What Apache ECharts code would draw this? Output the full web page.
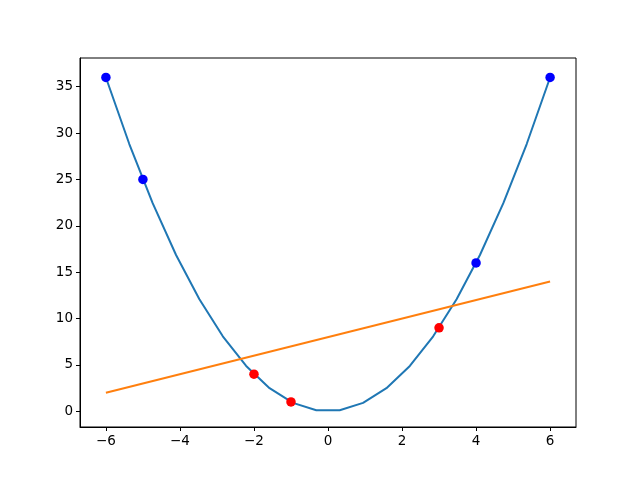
<!DOCTYPE html>
<html>
<head>
<meta charset="utf-8">
<script src="https://cdn.jsdelivr.net/npm/echarts@6/dist/echarts.min.js"></script>
<style>
  html, body { margin: 0; padding: 0; background: #fff; }
  #chart { width: 640px; height: 480px; }
</style>
</head>
<body>
<div id="chart"></div>
<script>
  // parabola samples
  var curveX = [-6, -5.368, -4.737, -4.105, -3.474, -2.842, -2.211, -1.579, -0.947, -0.316,
                0.316, 0.947, 1.579, 2.211, 2.842, 3.474, 4.105, 4.737, 5.368, 6];
  var curveY = [36, 28.82, 22.44, 16.85, 12.07, 8.08, 4.89, 2.49, 0.90, 0.10,
                0.10, 0.90, 2.49, 4.89, 8.08, 12.07, 16.85, 22.44, 28.82, 36];
  // straight line
  var lineX = [-6, 6];
  var lineY = [2, 14];
  // scatter points
  var redX = [-2, -1, 3];
  var redY = [4, 1, 9];
  var blueX = [-6, -5, 4, 6];
  var blueY = [36, 25, 16, 36];
  // tick labels
  var xTicks = [-6, -4, -2, 0, 2, 4, 6];
  var yTicks = [0, 5, 10, 15, 20, 25, 30, 35];

  function pairs(xs, ys) {
    return xs.map(function (x, i) { return [x, ys[i]]; });
  }
  function fmt(v) {
    return v < 0 ? '\u2212' + (-v) : String(v);
  }

  var labelStyle = { color: '#000', fontFamily: 'DejaVu Sans', fontSize: 13.5 };

  var myChart = echarts.init(document.getElementById('chart'));
  var option = {
    animation: false,
    grid: {
      left: 80, right: 64, top: 58, bottom: 53,
      show: true, borderColor: '#000', borderWidth: 1, backgroundColor: '#fff'
    },
    xAxis: {
      type: 'value',
      min: -6.7, max: 6.7,
      axisLine: { show: true, onZero: false, lineStyle: { color: '#000', width: 1 } },
      axisTick: { show: true, length: 4, lineStyle: { color: '#000' }, customValues: xTicks },
      axisLabel: Object.assign({ margin: 7, formatter: fmt, customValues: xTicks }, labelStyle),
      splitLine: { show: false }
    },
    yAxis: {
      type: 'value',
      min: -1.7, max: 38.1,
      axisLine: { show: true, onZero: false, lineStyle: { color: '#000', width: 1 } },
      axisTick: { show: true, length: 4, lineStyle: { color: '#000' }, customValues: yTicks },
      axisLabel: Object.assign({ margin: 7, formatter: fmt, customValues: yTicks }, labelStyle),
      splitLine: { show: false }
    },
    series: [
      {
        type: 'line', data: pairs(curveX, curveY), showSymbol: false,
        lineStyle: { color: '#1f77b4', width: 2 }, z: 2
      },
      {
        type: 'line', data: pairs(lineX, lineY), showSymbol: false,
        lineStyle: { color: '#ff7f0e', width: 2 }, z: 2
      },
      {
        type: 'scatter', data: pairs(redX, redY), symbolSize: 9.5,
        itemStyle: { color: '#ff0000', opacity: 1 }, z: 3
      },
      {
        type: 'scatter', data: pairs(blueX, blueY), symbolSize: 9.5,
        itemStyle: { color: '#0000ff', opacity: 1 }, z: 3
      }
    ]
  };
  myChart.setOption(option);
</script>
</body>
</html>
